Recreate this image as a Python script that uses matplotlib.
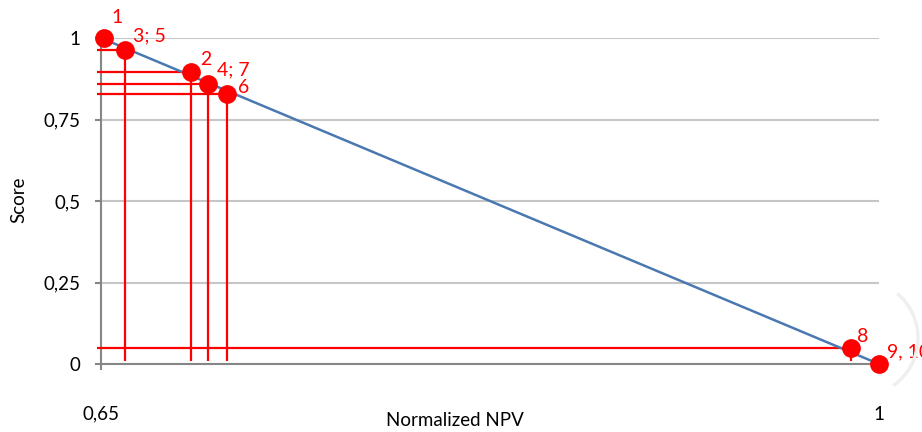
import matplotlib
matplotlib.use("Agg")
import matplotlib.pyplot as plt
from matplotlib.patches import Arc
from matplotlib.transforms import IdentityTransform

# ---- data ----
point_labels = ["1", "3; 5", "2", "4; 7", "6", "8", "9, 10"]
npv = [0.6515, 0.6608, 0.6904, 0.6983, 0.7066, 0.9873, 1.0]
score = [1.0, 0.964, 0.896, 0.860, 0.827, 0.049, 0.0]
line_x = [0.65, 1.0]
line_y = [1.0, 0.0]
x_ticks = [0.65, 1.0]
x_tick_labels = ["0,65", "1"]
y_ticks = [0, 0.25, 0.5, 0.75, 1.0]
y_tick_labels = ["0", "0,25", "0,5", "0,75", "1"]
# which points have drop lines
drop_idx = [1, 2, 3, 4, 5]
# label offsets (pixels): left edge dx, baseline dy
label_offsets = [(7, 15), (8, 8.5), (9, 6.7), (9, 8.3), (11, 1.2), (6, 6.3), (7.5, 6.7)]

FONT = ["Lato", "DejaVu Sans"]
plt.rcParams['font.family'] = FONT

W, H = 922, 432
fig = plt.figure(figsize=(W / 100, H / 100), dpi=100)
L, R, T, B = 101, 879, 38, 364
ax = fig.add_axes([L / W, (H - B) / H, (R - L) / W, (B - T) / H])
ax.set_xlim(0.65, 1.0)
ax.set_ylim(0, 1.0)

GRID = "#c6c6c6"
AXC = "#868686"
RED = "#ff0000"
BLUE = "#4a78b0"

ax.set_yticks(y_ticks)
ax.set_yticklabels(y_tick_labels)
ax.set_xticks(x_ticks)
ax.set_xticklabels(x_tick_labels)
ax.yaxis.grid(True, color=GRID, linewidth=1.5)
ax.set_axisbelow(True)
for s in ["top", "right"]:
    ax.spines[s].set_visible(False)
for s in ["left", "bottom"]:
    ax.spines[s].set_color(AXC)
    ax.spines[s].set_linewidth(1.5)
    ax.spines[s].set_zorder(1.5)
ax.tick_params(axis="y", direction="out", length=4, width=1.5, color=AXC,
               labelsize=13.5, pad=11, labelcolor="black")
ax.tick_params(axis="x", direction="out", length=4, width=1.5, color=AXC,
               labelsize=13.5, pad=26, labelcolor="black")

# drop lines
x_left = 0.65 - 4 / (R - L) * 0.35
y_bot = 3 / (B - T)
for i in drop_idx:
    ax.plot([x_left, npv[i]], [score[i], score[i]], color=RED, lw=1.6,
            zorder=2, clip_on=False, solid_capstyle="butt")
    ax.plot([npv[i], npv[i]], [y_bot, score[i]], color=RED, lw=1.6,
            zorder=2, clip_on=False, solid_capstyle="butt")

# blue line
ax.plot(line_x, line_y, color=BLUE, lw=1.8, zorder=3, clip_on=False)

# points
ax.plot(npv, score, linestyle="none", marker="o", markersize=13.5,
        color=RED, markeredgewidth=0, zorder=4, clip_on=False)

for lab, x, y, (dx, dy) in zip(point_labels, npv, score, label_offsets):
    ax.annotate(lab, (x, y), xytext=(dx, dy), textcoords="offset pixels",
                ha="left", va="baseline", color=RED, fontsize=14,
                annotation_clip=False, zorder=5)

fig.text(455 / W, 1 - 420 / H, "Normalized NPV", ha="center", va="center",
         fontsize=13.5)
fig.text(19 / W, 1 - 200 / H, "Score", ha="center", va="center",
         rotation=90, fontsize=13.5)

# faint arc artifact at the right edge
arc = Arc((860, H - 338), 116, 116, theta1=-55, theta2=50,
          transform=IdentityTransform(), color="#efefef", lw=2.5)
fig.patches.append(arc)

fig.savefig("out.png", dpi=100)
